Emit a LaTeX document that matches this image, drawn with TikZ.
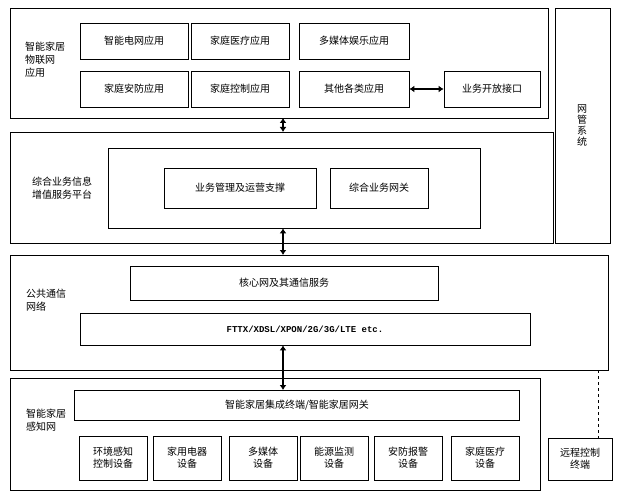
\documentclass[tikz,border=0pt]{standalone}
\usepackage{fontspec}
\setmainfont{Noto Sans CJK SC}
\newfontfamily\monofont{Liberation Mono}
\usetikzlibrary{arrows.meta,positioning}
\tikzset{
  layer/.style ={draw, thick},
  box/.style   ={draw, thick, align=center, font=\fontsize{10}{12}\selectfont},
  label/.style ={align=left, font=\fontsize{10}{13}\selectfont},
  link/.style  ={draw, line width=1.6pt, {Latex[length=5pt,width=7pt]}-{Latex[length=5pt,width=7pt]}}
}
\begin{document}
\begin{tikzpicture}[x=1pt,y=-1pt]
 \useasboundingbox (0,0) rectangle (618,500);
 % layers
 \draw[layer] (10,8) rectangle (548,118);
 \draw[layer] (10,132) rectangle (553,243);
 \draw[layer] (10,255) rectangle (608,370);
 \draw[layer] (10,378) rectangle (540,490);
 \draw[layer] (555,8) rectangle (610,243);
 \node[label] (app) at (45,60) {智能家居\\物联网\\应用};
 \node[label] (svc) at (62,188) {综合业务信息\\增值服务平台};
 \node[label] (net) at (46,300) {公共通信\\网络};
 \node[label] (sense) at (46,420) {智能家居\\感知网};
 \node[label, font=\fontsize{10}{11}\selectfont] (mgmt) at (582,125) {网\\管\\系\\统};

 % application layer
 \node[box, minimum width=108, minimum height=36] (grid) at (134,41) {智能电网应用};
 \node[box, minimum width=98, minimum height=36] (med) at (240,41) {家庭医疗应用};
 \node[box, minimum width=110, minimum height=36] (media) at (354,41) {多媒体娱乐应用};
 \node[box, minimum width=108, minimum height=36] (sec) at (134,89) {家庭安防应用};
 \node[box, minimum width=98, minimum height=36] (ctrl) at (240,89) {家庭控制应用};
 \node[box, minimum width=110, minimum height=36] (other) at (354,89) {其他各类应用};
 \node[box, minimum width=96, minimum height=36] (api) at (492,89) {业务开放接口};
 \path[link] (other) -- (api);

 % service platform
 \node[box, minimum width=372, minimum height=80] (plat) at (294,188) {};
 \node[box, minimum width=152, minimum height=40] (ops) at (240,188) {业务管理及运营支撑};
 \node[box, minimum width=98, minimum height=40] (gw) at (379,188) {综合业务网关};

 % public network
 \node[box, minimum width=308, minimum height=34] (core) at (284,283) {核心网及其通信服务};
 \node[box, minimum width=450, minimum height=32, font=\monofont\bfseries\fontsize{9}{11}\selectfont] (access) at (305,329) {FTTX/XDSL/XPON/2G/3G/LTE etc.};

 % sensing network
 \node[box, minimum width=445, minimum height=30] (term) at (297,405) {智能家居集成终端/智能家居网关};
 \foreach \x/\n/\t in {113/env/环境感知\\控制设备, 187/appl/家用电器\\设备, 263/mm/多媒体\\设备,
                      334/energy/能源监测\\设备, 408/alarm/安防报警\\设备, 485/care/家庭医疗\\设备}
   \node[box, minimum width=68, minimum height=44, inner sep=1pt] (\n) at (\x,458) {\t};
 \node[box, minimum width=64, minimum height=42, inner sep=1pt] (remote) at (580,459) {远程控制\\终端};

 % links between layers
 \coordinate (l1b) at (283,118);
 \coordinate (l2t) at (283,132);
 \coordinate (l3t) at (283,255);
 \coordinate (l4t) at (283,390);
 \path[link] (l1b) -- (l2t);
 \path[link] (plat.south -| l3t) -- (l3t);
 \path[link] (access.south -| l4t) -- (l4t);
 \coordinate (dash) at (598,370);
 \draw[dashed] (dash) -- (dash |- remote.north);
\end{tikzpicture}
\end{document}
